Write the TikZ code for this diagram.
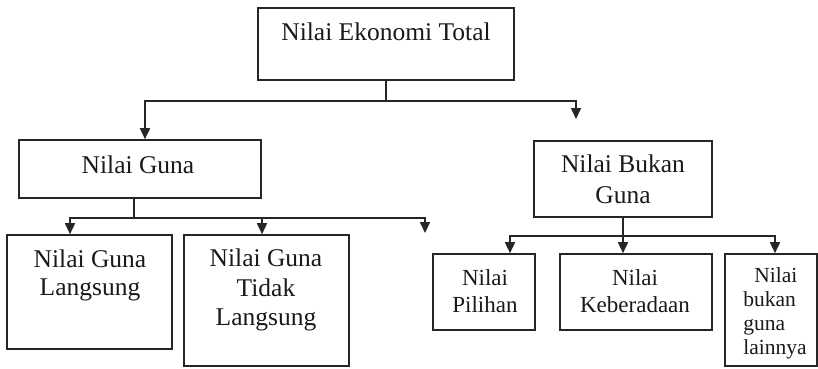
\documentclass[tikz,border=0pt]{standalone}
\usepackage{fontspec}
\setmainfont{Liberation Serif}
\usetikzlibrary{arrows.meta}
\begin{document}
\begin{tikzpicture}[x=1pt,y=-1pt,
  box/.style 2 args={draw=black!85, line width=1.6pt, inner sep=0pt, minimum width=#1, minimum height=#2},
  lbl/.style={inner sep=0pt, align=center, text=black!90},
  big/.style={font=\fontsize{25.5}{29}\selectfont},
  conn/.style={draw=black!85, line width=1.6pt},
  arr/.style={conn, -{Triangle[length=11pt,width=10pt]}}
]
\useasboundingbox (0,0) rectangle (818,368);
% boxes
\node[box={256}{72}] (top) at (386,44) {};
\node[box={242}{58}] (guna) at (140,169) {};
\node[box={165}{114}] (lang) at (89.5,292) {};
\node[box={165}{131}] (tidak) at (266.5,300.5) {};
\node[box={178}{76}] (bukan) at (623,179) {};
\node[box={102}{76}] (pil) at (484,292) {};
\node[box={152}{76}] (keb) at (636,292) {};
\node[box={92}{112}] (lain) at (771,310) {};
% labels
\node[lbl,big] (ttop) at (386,32) {Nilai Ekonomi Total};
\node[lbl,big] (tguna) at (138,165) {Nilai Guna};
\node[lbl,font=\fontsize{25.5}{28}\selectfont] (tlang) at (90,275) {Nilai Guna\\Langsung};
\node[lbl,font=\fontsize{25.5}{29.5}\selectfont] (ttidak) at (266,290) {Nilai Guna\\Tidak\\Langsung};
\node[lbl,font=\fontsize{25.5}{31}\selectfont] (tbukan) at (623,179) {Nilai Bukan\\Guna};
\node[lbl,font=\fontsize{23}{27}\selectfont] (tpil) at (485,291) {Nilai\\Pilihan};
\node[lbl,font=\fontsize{23}{27}\selectfont] (tkeb) at (635,291) {Nilai\\Keberadaan};
\node[lbl,align=left,font=\fontsize{21.5}{24}\selectfont] (tlain) at (775,313) {\hspace*{11pt}Nilai\\bukan\\guna\\lainnya};
% connectors
\coordinate (j1) at ([yshift=-20pt]top.south);
\coordinate (r1) at (576,119);
\draw[conn] (top.south) -- (j1);
\draw[arr] (j1) -| ([xshift=5pt]guna.north);
\draw[arr] (j1) -| (r1);
\coordinate (j2) at ([xshift=-6pt,yshift=-19pt]guna.south);
\coordinate (r2) at (425,233);
\draw[conn] ([xshift=-6pt]guna.south) -- (j2);
\draw[arr] (j2) -| ([xshift=-19.5pt]lang.north);
\draw[arr] (j2) -| ([xshift=-4.5pt]tidak.north);
\draw[arr] (j2) -| (r2);
\coordinate (j3) at ([yshift=-18pt]bukan.south);
\draw[arr] (bukan.south) -- (keb.north -| bukan.south);
\draw[arr] (j3) -| ([xshift=26pt]pil.north);
\draw[arr] (j3) -| ([xshift=4pt]lain.north);
\end{tikzpicture}
\end{document}
